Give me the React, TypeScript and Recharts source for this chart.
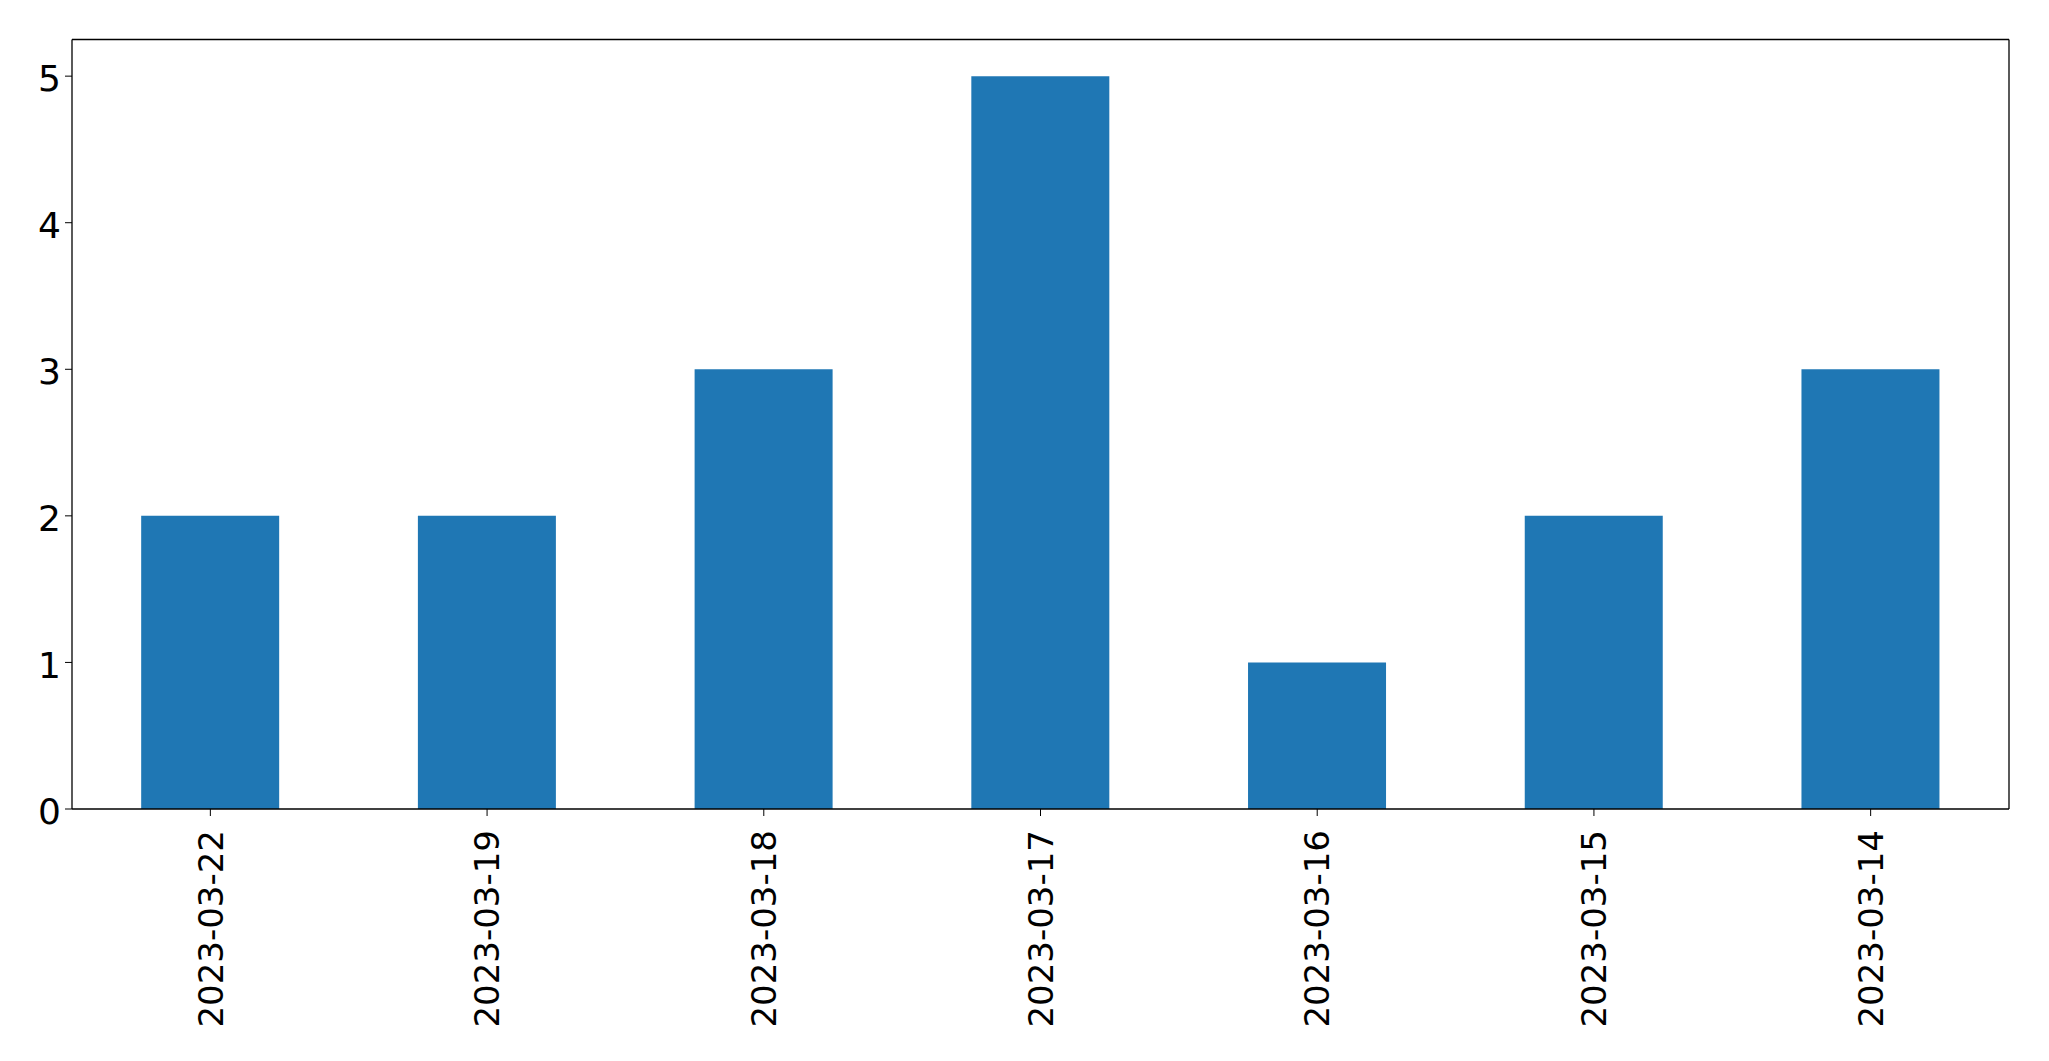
import React from "react";
import { BarChart, Bar, XAxis, YAxis } from "recharts";

const dates = ["2023-03-22", "2023-03-19", "2023-03-18", "2023-03-17", "2023-03-16", "2023-03-15", "2023-03-14"];
const counts = [2, 2, 3, 5, 1, 2, 3];
const yTicks = [0, 1, 2, 3, 4, 5];

const data = dates.map((d, i) => ({ date: d, count: counts[i] }));

const FONT = "'DejaVu Sans', sans-serif";

const XTick = (props: any) => {
  const { x, y, payload } = props;
  const ty = y + 12;
  return (
    <text
      x={x}
      y={ty}
      transform={`rotate(-90, ${x}, ${ty})`}
      textAnchor="end"
      dy="0.36em"
      fontSize={34}
      fontFamily={FONT}
      fill="#000"
    >
      {payload.value}
    </text>
  );
};

const YTick = (props: any) => {
  const { x, y, payload } = props;
  return (
    <text x={x} y={y} textAnchor="end" dy="0.42em" fontSize={36} fontFamily={FONT} fill="#000">
      {payload.value}
    </text>
  );
};

export default function App() {
  return (
    <div style={{ position: "absolute", left: 0, top: 0, width: 2049, height: 1061, background: "#fff" }}>
      <BarChart
        width={2049}
        height={1061}
        data={data}
        margin={{ top: 38.5, right: 39, left: 0, bottom: 0 }}
        barCategoryGap="25%"
      >
        <XAxis
          dataKey="date"
          xAxisId="main"
          height={252}
          interval={0}
          tick={<XTick />}
          tickSize={7}
          stroke="#000"
          tickLine={{ stroke: "#000" }}
          axisLine={{ stroke: "#000", strokeWidth: 1.3 }}
        />
        <XAxis
          dataKey="date"
          xAxisId="top"
          orientation="top"
          height={1}
          tick={false}
          tickLine={false}
          axisLine={{ stroke: "#000", strokeWidth: 1.3 }}
        />
        <YAxis
          yAxisId="left"
          width={72}
          domain={[0, 5.25]}
          ticks={yTicks}
          interval={0}
          tickSize={7}
          tickMargin={4}
          tick={<YTick />}
          tickLine={{ stroke: "#000" }}
          axisLine={{ stroke: "#000", strokeWidth: 1.3 }}
        />
        <YAxis
          yAxisId="right"
          orientation="right"
          width={1}
          domain={[0, 5.25]}
          tick={false}
          tickLine={false}
          axisLine={{ stroke: "#000", strokeWidth: 1.3 }}
        />
        <Bar dataKey="count" xAxisId="main" yAxisId="left" fill="#1f77b4" isAnimationActive={false} />
      </BarChart>
    </div>
  );
}
